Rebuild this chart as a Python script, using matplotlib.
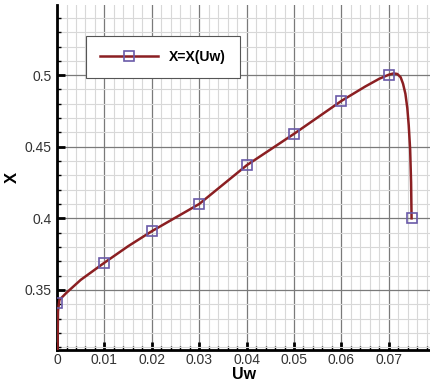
import matplotlib
matplotlib.use('Agg')
import matplotlib.pyplot as plt
from matplotlib.ticker import MultipleLocator

plt.rcParams['font.family'] = ['Liberation Sans', 'DejaVu Sans']

# marker points
uw_marks = [0.0, 0.01, 0.02, 0.03, 0.04, 0.05, 0.06, 0.07, 0.0748]
x_marks = [0.341, 0.369, 0.391, 0.410, 0.437, 0.459, 0.482, 0.500, 0.400]

# curve X = X(Uw)
uw_curve = [0.0001, 0.0002, 0.0005, 0.002, 0.005, 0.01, 0.015, 0.02, 0.025, 0.03,
            0.035, 0.04, 0.045, 0.05, 0.055, 0.06, 0.065, 0.068, 0.070, 0.0710,
            0.0718, 0.0725, 0.0730, 0.0735, 0.0739, 0.0742, 0.0745, 0.0747, 0.0748]
x_curve = [0.305, 0.335, 0.343, 0.348, 0.357, 0.369, 0.3805, 0.391, 0.4005, 0.410,
           0.4235, 0.437, 0.448, 0.459, 0.4705, 0.482, 0.492, 0.4975, 0.5003, 0.5012,
           0.5008, 0.4985, 0.494, 0.487, 0.477, 0.465, 0.448, 0.425, 0.400]

fig = plt.figure(figsize=(4.31, 3.84), dpi=100)
ax = fig.add_axes([0.1323, 0.0885, 0.8677, 0.8985])

ax.plot(uw_curve, x_curve, color='#8b1f22', lw=1.8, zorder=3)
ax.plot(uw_marks, x_marks, ls='none', marker='s', ms=7, mfc='none',
        mec='#6a5aa8', mew=1.2, zorder=4)
# legend proxy
ax.plot([], [], color='#8b1f22', lw=1.8, marker='s', ms=7, mfc='none',
        mec='#6a5aa8', mew=1.2, label='X=X(Uw)')

ax.set_xlim(0, 0.0789)
ax.set_ylim(0.308, 0.549)

ax.xaxis.set_minor_locator(MultipleLocator(0.002))
ax.yaxis.set_minor_locator(MultipleLocator(0.01))
ax.set_xticks([0, 0.01, 0.02, 0.03, 0.04, 0.05, 0.06, 0.07])
ax.set_xticklabels(['0', '0.01', '0.02', '0.03', '0.04', '0.05', '0.06', '0.07'])
ax.set_yticks([0.35, 0.4, 0.45, 0.5])
ax.set_yticklabels(['0.35', '0.4', '0.45', '0.5'])

ax.grid(which='major', color='#7a7a7a', lw=0.9)
ax.grid(which='minor', color='#d8d8d8', lw=0.8)
ax.set_axisbelow(True)

for s in ['top', 'right']:
    ax.spines[s].set_visible(False)
for s in ['left', 'bottom']:
    ax.spines[s].set_linewidth(2)

ax.tick_params(which='major', direction='in', length=6, width=2, labelsize=10,
               labelcolor='#333333', pad=4)
ax.tick_params(axis='x', which='major', pad=2)
ax.tick_params(which='minor', direction='in', length=3, width=1)

ax.set_xlabel('Uw', fontsize=11.5, fontweight='bold')
ax.set_ylabel('X', fontsize=12, fontweight='bold')
ax.xaxis.set_label_coords(0.5, -0.05)
ax.yaxis.set_label_coords(-0.099, 0.5)

leg = ax.legend(loc='upper left', bbox_to_anchor=(0.0775, 0.91), borderaxespad=0,
                fancybox=False, edgecolor='#555555', framealpha=1, handlelength=4.2,
                borderpad=1.0, prop={'weight': 'bold', 'size': 10})
leg.get_frame().set_linewidth(0.8)

fig.savefig('out.png', dpi=100)
